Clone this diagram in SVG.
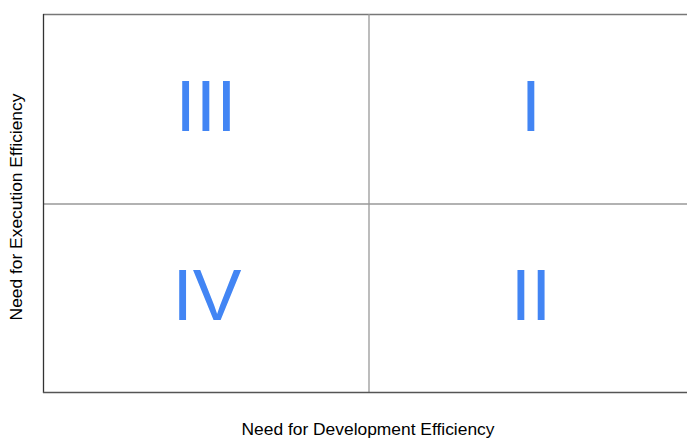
<svg xmlns="http://www.w3.org/2000/svg" width="687" height="438" viewBox="0 0 687 438">
<style>
.num{font-family:"Liberation Sans",Arial,sans-serif;font-size:73px;fill:#4285F4;text-anchor:middle}
.ax{font-family:"Liberation Sans",Arial,sans-serif;font-size:17.4px;fill:#000;text-anchor:middle}
.grid{stroke:#999;stroke-width:1.3;fill:none}
.axis{stroke:#333;stroke-width:1.3;fill:none}
</style>
<rect width="687" height="438" fill="#fff"/>
<g id="connectors">
<line class="grid" x1="43" y1="14.5" x2="687" y2="14.5" style="stroke:#777"/>
<line class="grid" x1="369" y1="14" x2="369" y2="393"/>
<line class="grid" x1="43" y1="204" x2="687" y2="204"/>
<line class="axis" x1="43.5" y1="14" x2="43.5" y2="393"/>
<line class="axis" x1="43" y1="392.5" x2="687" y2="392.5" style="stroke:#555"/>
</g>
<g id="q3"><text class="num" x="206" y="131">III</text></g>
<g id="q1"><text class="num" x="531" y="131">I</text></g>
<g id="q4"><text class="num" x="207" y="320">IV</text></g>
<g id="q2"><text class="num" x="531" y="320">II</text></g>
<g id="xlabel"><text class="ax" x="368" y="435">Need for Development Efficiency</text></g>
<g id="ylabel"><text class="ax" transform="translate(22,207) rotate(-90)">Need for Execution Efficiency</text></g>
</svg>
